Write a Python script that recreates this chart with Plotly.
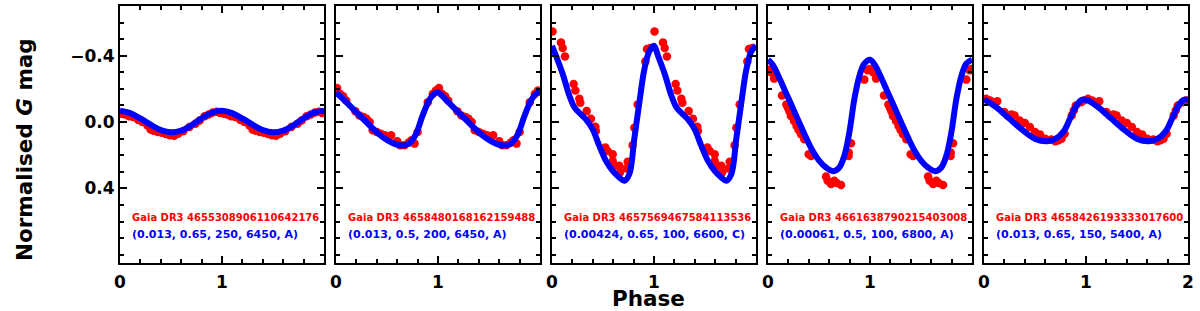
import numpy as np
import plotly.graph_objects as go

# ---------------- data (one phase cycle per star; folded light curves) ----------------
star_names = ["Gaia DR3 4655308906110642176", "Gaia DR3 4658480168162159488",
              "Gaia DR3 4657569467584113536", "Gaia DR3 4661638790215403008",
              "Gaia DR3 4658426193333017600"]
model_params = ["(0.013, 0.65, 250, 6450, A)", "(0.013, 0.5, 200, 6450, A)",
                "(0.00424, 0.65, 100, 6600, C)", "(0.00061, 0.5, 100, 6800, A)",
                "(0.013, 0.65, 150, 5400, A)"]

# model curves (phase, normalised G mag)
m1_phase = [0, 0.1, 0.2, 0.3, 0.4, 0.5, 0.6, 0.7, 0.8, 0.9, 1.0]
m1_mag = [-0.068, -0.054, -0.022, 0.016, 0.048, 0.062, 0.052, 0.02, -0.022, -0.056, -0.068]

m2_phase = [0, 0.078, 0.176, 0.275, 0.373, 0.471, 0.569, 0.65, 0.716, 0.781, 0.846, 0.912, 0.961, 1.0]
m2_mag = [-0.178, -0.134, -0.074, -0.014, 0.046, 0.096, 0.13, 0.142, 0.13, 0.076, -0.034, -0.13, -0.17, -0.178]

m3_phase = [0, 0.039, 0.105, 0.17, 0.219, 0.268, 0.333, 0.399, 0.464, 0.529, 0.595, 0.66, 0.709,
            0.758, 0.807, 0.856, 0.905, 0.954, 1.0]
m3_mag = [-0.46, -0.40, -0.29, -0.16, -0.09, -0.056, -0.016, 0.044, 0.144, 0.234, 0.294, 0.334, 0.354,
          0.314, 0.10, -0.116, -0.316, -0.426, -0.46]

m4_phase = [0, 0.046, 0.111, 0.176, 0.242, 0.307, 0.373, 0.438, 0.503, 0.569, 0.64, 0.699, 0.748,
            0.797, 0.846, 0.895, 0.944, 1.0]
m4_mag = [-0.376, -0.346, -0.266, -0.176, -0.086, 0.004, 0.094, 0.174, 0.234, 0.274, 0.296, 0.274, 0.204,
          0.064, -0.136, -0.276, -0.352, -0.376]

m5_phase = [0, 0.111, 0.242, 0.373, 0.503, 0.618, 0.699, 0.781, 0.846, 0.912, 0.961, 1.0]
m5_mag = [-0.135, -0.094, -0.024, 0.046, 0.102, 0.116, 0.102, 0.056, -0.024, -0.104, -0.134, -0.135]

# observations (phase, normalised G mag)
o1_phase = [0.02, 0.05, 0.09, 0.13, 0.18, 0.22, 0.27, 0.30, 0.33, 0.37, 0.41, 0.45, 0.49, 0.53,
            0.57, 0.62, 0.68, 0.74, 0.78, 0.83, 0.87, 0.91, 0.95, 0.98]
o1_mag = [-0.05, -0.045, -0.035, -0.03, -0.012, 0.0, 0.02, 0.045, 0.052, 0.06, 0.065, 0.072, 0.08, 0.082,
          0.07, 0.055, 0.03, 0.01, -0.01, -0.035, -0.045, -0.058, -0.062, -0.055]

o2_phase = [0.01, 0.04, 0.07, 0.10, 0.19, 0.23, 0.27, 0.30, 0.33, 0.36, 0.40, 0.44, 0.48, 0.51,
            0.54, 0.60, 0.63, 0.67, 0.71, 0.74, 0.77, 0.80, 0.90, 0.95, 0.98]
o2_mag = [-0.205, -0.17, -0.155, -0.13, -0.065, -0.04, -0.03, -0.02, 0.0, 0.05, 0.06, 0.07, 0.08, 0.10,
          0.08, 0.115, 0.14, 0.14, 0.125, 0.11, 0.13, 0.06, -0.12, -0.17, -0.19]

o3_phase = [0.005, 0.088, 0.105, 0.127, 0.212, 0.229, 0.268, 0.278, 0.34, 0.382, 0.425, 0.431, 0.523,
            0.546, 0.595, 0.595, 0.62, 0.66, 0.667, 0.732, 0.742, 0.79, 0.807, 0.84, 0.915, 0.931, 0.964]
o3_mag = [-0.546, -0.48, -0.446, -0.396, -0.23, -0.19, -0.14, -0.116, -0.066, -0.02, 0.028, 0.054, 0.154,
          0.174, 0.194, 0.234, 0.264, 0.264, 0.304, 0.28, 0.24, 0.14, 0.034, -0.106, -0.366, -0.44, -0.446]

o4_phase = [0.01, 0.03, 0.06, 0.137, 0.18, 0.195, 0.209, 0.225, 0.255, 0.28, 0.3, 0.324, 0.356, 0.399,
            0.422, 0.569, 0.585, 0.618, 0.65, 0.673, 0.716, 0.791, 0.79, 0.814, 0.944, 0.977, 0.995]
o4_mag = [-0.316, -0.3, -0.262, -0.16, -0.106, -0.086, -0.066, -0.036, -0.006, 0.024, 0.048, 0.074, 0.104,
          0.194, 0.204, 0.328, 0.354, 0.374, 0.354, 0.368, 0.38, 0.184, 0.204, 0.128, -0.256, -0.312, -0.32]

o5_phase = [0.02, 0.06, 0.10, 0.13, 0.20, 0.23, 0.27, 0.30, 0.35, 0.40, 0.45, 0.50, 0.55, 0.60, 0.66,
            0.70, 0.73, 0.76, 0.79, 0.86, 0.88, 0.90, 0.95, 0.98]
o5_mag = [-0.14, -0.13, -0.12, -0.125, -0.06, -0.04, -0.045, -0.04, -0.01, 0.005, 0.03, 0.06, 0.075, 0.1,
          0.105, 0.115, 0.11, 0.1, 0.07, -0.04, -0.07, -0.1, -0.12, -0.13]

models = [(m1_phase, m1_mag), (m2_phase, m2_mag), (m3_phase, m3_mag), (m4_phase, m4_mag), (m5_phase, m5_mag)]
obs = [(o1_phase, o1_mag), (o2_phase, o2_mag), (o3_phase, o3_mag), (o4_phase, o4_mag), (o5_phase, o5_mag)]

y_ticks = [-0.4, 0.0, 0.4]
y_ticktext = ["\u22120.4", "0.0", "0.4"]
x_ticks = [0, 1, 2]

# ---------------- figure ----------------
W, H = 1200, 311
panel_left = [120, 336, 552, 768, 984]
panel_w = 204
top_px, bot_px = 6, 263

fig = go.Figure()
FONT = "DejaVu Sans"

for i in range(5):
    ax = "" if i == 0 else str(i + 1)
    op, om = obs[i]
    mp, mm = models[i]
    op2 = list(op) + [p + 1 for p in op]
    om2 = list(om) + list(om)
    mp2 = list(mp) + [p + 1 for p in mp[1:]]
    mm2 = list(mm) + list(mm[1:])
    fig.add_trace(go.Scatter(x=op2, y=om2, mode="markers",
                             marker=dict(color="#ff0000", size=8.5, line=dict(width=0)),
                             xaxis="x" + ax, yaxis="y" + ax, showlegend=False, cliponaxis=True))
    fig.add_trace(go.Scatter(x=mp2, y=mm2, mode="lines",
                             line=dict(color="#0000ff", width=6, shape="spline", smoothing=1.0),
                             xaxis="x" + ax, yaxis="y" + ax, showlegend=False))

    x0 = panel_left[i] / W
    x1 = (panel_left[i] + panel_w) / W
    common = dict(showline=True, linecolor="black", linewidth=2, mirror="allticks",
                  ticks="inside", ticklen=7, tickwidth=2, tickcolor="black",
                  showgrid=False, zeroline=False, automargin=False)
    fig.layout["xaxis" + ax] = dict(
        domain=[x0, x1], range=[0, 2], anchor="y" + ax,
        tickvals=x_ticks, ticktext=["0", "1", "2" if i == 4 else ""],
        ticklabelstandoff=3,
        tickfont=dict(family=FONT, size=17, color="black", weight="bold"),
        minor=dict(ticks="inside", dtick=0.2, ticklen=4, tickwidth=1.5, tickcolor="black"),
        **common)
    fig.layout["yaxis" + ax] = dict(
        domain=[1 - bot_px / H, 1 - top_px / H], range=[0.85, -0.7], anchor="x" + ax,
        tickvals=y_ticks, ticktext=y_ticktext, showticklabels=(i == 0),
        tickfont=dict(family=FONT, size=17, color="black", weight="bold"),
        minor=dict(ticks="inside", dtick=0.1, tick0=0, ticklen=4, tickwidth=1.5, tickcolor="black"),
        **common)

    fig.add_annotation(x=0.1, y=0.576, xref="x" + ax, yref="y" + ax, text=star_names[i],
                       showarrow=False, xanchor="left", yanchor="middle",
                       font=dict(family=FONT, size=10, color="#ff0000", weight="bold"))
    fig.add_annotation(x=0.1, y=0.679, xref="x" + ax, yref="y" + ax, text=model_params[i],
                       showarrow=False, xanchor="left", yanchor="middle",
                       font=dict(family=FONT, size=11, color="#0000ff", weight="bold"))

fig.add_annotation(x=24 / W, y=1 - 150 / H, xref="paper", yref="paper",
                   text="Normalised <i>G</i> mag", textangle=-90, showarrow=False,
                   xanchor="center", yanchor="middle",
                   font=dict(family=FONT, size=21.5, color="black", weight="bold"))
fig.add_annotation(x=648 / W, y=1 - 298 / H, xref="paper", yref="paper",
                   text="Phase", showarrow=False, xanchor="center", yanchor="middle",
                   font=dict(family=FONT, size=21.5, color="black", weight="bold"))

fig.update_layout(width=W, height=H, margin=dict(l=0, r=0, t=0, b=0, autoexpand=False),
                  autosize=False, paper_bgcolor="white", plot_bgcolor="white")

fig.write_html("out.html",
               config={"displayModeBar": False, "responsive": False},
               post_script="document.body.style.margin='0';document.body.style.overflow='hidden';")
